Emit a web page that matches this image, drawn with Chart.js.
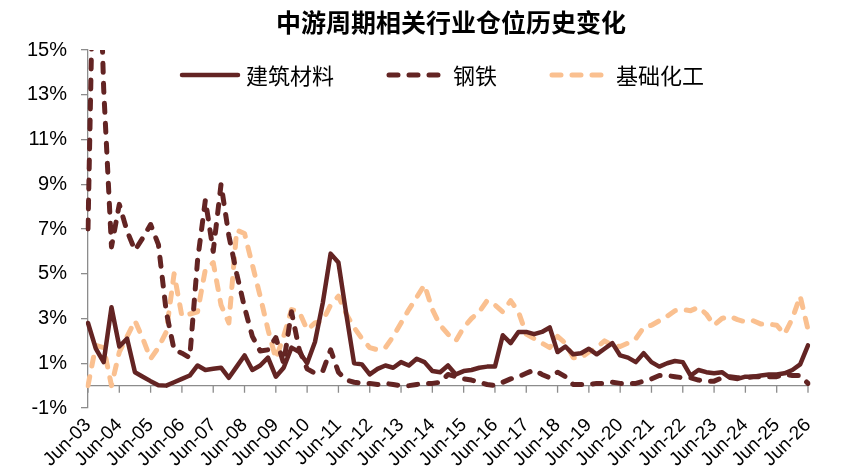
<!DOCTYPE html>
<html><head><meta charset="utf-8">
<script src="https://cdn.jsdelivr.net/npm/chart.js@4/dist/chart.umd.min.js"></script>
<style>html,body{margin:0;padding:0;background:#fff}#wrap{width:847px;height:474px}</style>
</head><body><div id="wrap"><canvas id="c" width="847" height="474"></canvas></div>
<script>
const chartTitle = '中游周期相关行业仓位历史变化';
const seriesNames = ['建筑材料', '钢铁', '基础化工'];
const yearTicks = ['Jun-03','Jun-04','Jun-05','Jun-06','Jun-07','Jun-08','Jun-09','Jun-10','Jun-11','Jun-12','Jun-13','Jun-14','Jun-15','Jun-16','Jun-17','Jun-18','Jun-19','Jun-20','Jun-21','Jun-22','Jun-23','Jun-24','Jun-25','Jun-26'];
const quarterMonths = ['Jun', 'Sep', 'Dec', 'Mar'];
const yTickValues = [-1, 1, 3, 5, 7, 9, 11, 13, 15];

// 建筑材料 (%), quarterly from Jun-03 to Jun-26
const jianzhuCailiao = [
  2.8, 1.65, 1.05, 3.5, 1.75, 2.1, 0.6, 0.4, 0.2, 0.02,
  0.0, 0.15, 0.3, 0.45, 0.9, 0.7, 0.75, 0.8, 0.35, 0.85,
  1.35, 0.7, 0.9, 1.25, 0.4, 0.8, 1.7, 1.5, 1.0, 1.95,
  3.7, 5.9, 5.5, 3.2, 1.0, 0.95, 0.5, 0.75, 0.9, 0.8,
  1.05, 0.9, 1.2, 1.05, 0.65, 0.6, 0.9, 0.5, 0.65, 0.7,
  0.8, 0.85, 0.85, 2.25, 1.9, 2.4, 2.4, 2.3, 2.4, 2.6,
  1.5, 1.75, 1.4, 1.45, 1.65, 1.4, 1.65, 1.9, 1.35, 1.25,
  1.05, 1.45, 1.05, 0.85, 1.0, 1.1, 1.05, 0.45, 0.7, 0.6,
  0.55, 0.6, 0.35, 0.3, 0.4, 0.4, 0.45, 0.5, 0.5, 0.55,
  0.7, 0.95, 1.8
];
// 钢铁 (%)
const gangtie = [
  7.0, 25, 13.3, 6.2, 8.1, 6.9, 6.05, 6.6, 7.2, 6.3,
  3.3, 1.6, 1.45, 1.25, 5.6, 8.3, 6.0, 9.0, 6.7, 5.0,
  3.5, 2.2, 1.55, 1.6, 2.15, 1.0, 3.3, 1.6, 0.75, 0.55,
  0.65, 1.6, 0.6, 0.25, 0.15, 0.1, 0.1, 0.05, 0.1, 0.05,
  0.0, 0.0, 0.05, 0.1, 0.1, 0.15, 0.5, 0.4, 0.3, 0.25,
  0.15, 0.05, 0.0, 0.15, 0.3, 0.4, 0.55, 0.7, 0.5, 0.35,
  0.6, 0.4, 0.05, 0.05, 0.05, 0.1, 0.1, 0.15, 0.1, 0.1,
  0.1, 0.2, 0.3, 0.45, 0.45, 0.4, 0.35, 0.35, 0.25, 0.2,
  0.2, 0.35, 0.4, 0.35, 0.35, 0.4, 0.4, 0.4, 0.4, 0.5,
  0.45, 0.45, 0.1
];
// 基础化工 (%)
const jichuHuagong = [
  0.0, 1.8, 1.7, 0.0, 1.5, 2.2, 2.9, 2.1, 1.2, 1.7,
  2.4, 5.0, 3.1, 3.2, 3.3, 5.2, 5.5, 3.6, 2.8, 6.95,
  6.8, 5.4, 4.0, 2.5, 1.2, 2.2, 3.4, 3.3, 2.5, 2.8,
  2.9, 3.6, 4.0, 3.2, 2.6, 2.1, 1.7, 1.6, 1.7, 2.2,
  2.8, 3.4, 3.95, 4.5, 3.4, 2.7, 2.3, 2.0, 2.6, 3.0,
  3.3, 3.8, 3.6, 3.3, 3.8, 3.3, 2.3, 2.1, 1.9, 1.7,
  2.2, 1.9, 1.25, 1.25, 1.5, 1.7, 2.0, 1.8, 1.75, 1.9,
  2.1, 2.6, 2.7, 2.9, 3.1, 3.35, 3.4, 3.35, 3.5, 3.2,
  2.7, 3.0, 3.1, 2.95, 2.85, 2.9, 2.75, 2.75, 2.7, 2.3,
  3.0, 4.0, 2.5
];

// quarter labels derived from the yearly tick labels
const quarterLabels = [];
yearTicks.forEach((t, i) => {
  const yy = parseInt(t.slice(4), 10);
  if (i === yearTicks.length - 1) { quarterLabels.push(t); return; }
  quarterMonths.forEach((m, k) => {
    const y = k === 3 ? yy + 1 : yy;
    quarterLabels.push(m + '-' + String(y).padStart(2, '0'));
  });
});

const DARK = '#632423';
const LIGHT = '#FAC090';
const LATIN = '"Liberation Sans", Arial, "Noto Sans CJK SC", sans-serif';
const CJK = '"Noto Sans CJK SC", "Liberation Sans", sans-serif';

const zeroAxisPlugin = {
  id: 'zeroAxis',
  beforeDatasetsDraw(chart) {
    const {ctx, chartArea, scales} = chart;
    const y0 = scales.y.getPixelForValue(0);
    ctx.save();
    ctx.strokeStyle = '#8c8c8c';
    ctx.lineWidth = 1.3;
    ctx.beginPath();
    ctx.moveTo(chartArea.left, y0);
    ctx.lineTo(chartArea.right, y0);
    quarterLabels.forEach((l, i) => {
      if (yearTicks.includes(l)) {
        const x = scales.x.getPixelForValue(i);
        ctx.moveTo(x, y0);
        ctx.lineTo(x, y0 + 7);
      }
    });
    ctx.stroke();
    ctx.restore();
  }
};

const titleLegendPlugin = {
  id: 'titleLegend',
  afterDraw(chart) {
    const {ctx, chartArea} = chart;
    ctx.save();
    ctx.fillStyle = '#000';
    ctx.font = 'bold 25px ' + CJK;
    ctx.textAlign = 'center';
    ctx.textBaseline = 'middle';
    ctx.fillText(chartTitle, (chartArea.left + chartArea.right) / 2 + 3, 22);

    ctx.font = '22px ' + CJK;
    ctx.textAlign = 'left';
    const lineLen = 56, textGap = 8, itemGap = 55, ly = 75;
    let x = 182;
    chart.data.datasets.forEach(ds => {
      ctx.save();
      ctx.strokeStyle = ds.borderColor;
      ctx.lineWidth = ds.borderWidth;
      ctx.lineCap = ds.borderCapStyle || 'butt';
      ctx.setLineDash(ds.borderDash || []);
      ctx.beginPath();
      ctx.moveTo(x, ly);
      ctx.lineTo(x + lineLen, ly);
      ctx.stroke();
      ctx.restore();
      ctx.fillStyle = '#000';
      ctx.fillText(ds.label, x + lineLen + textGap, ly + 1);
      const w = ctx.measureText(ds.label).width;
      x += lineLen + textGap + w + itemGap;
    });
    ctx.restore();
  }
};

new Chart(document.getElementById('c'), {
  type: 'line',
  data: {
    labels: quarterLabels,
    datasets: [
      { label: seriesNames[0], data: jianzhuCailiao, borderColor: DARK, borderWidth: 4.5,
        borderCapStyle: 'round', borderJoinStyle: 'round', pointRadius: 0, tension: 0, fill: false },
      { label: seriesNames[1], data: gangtie, borderColor: DARK, borderWidth: 5, borderDash: [9, 11],
        borderCapStyle: 'round', borderJoinStyle: 'round', pointRadius: 0, tension: 0, fill: false },
      { label: seriesNames[2], data: jichuHuagong, borderColor: LIGHT, borderWidth: 5, borderDash: [9, 11],
        borderCapStyle: 'round', borderJoinStyle: 'round', pointRadius: 0, tension: 0, fill: false }
    ]
  },
  options: {
    responsive: false,
    animation: false,
    devicePixelRatio: 1,
    layout: { padding: { top: 50, right: 39, left: 0, bottom: 0 } },
    plugins: { legend: { display: false }, title: { display: false }, tooltip: { enabled: false } },
    scales: {
      x: {
        type: 'category',
        offset: false,
        grid: { display: false, drawTicks: false },
        border: { display: false },
        ticks: {
          autoSkip: false, minRotation: 45, maxRotation: 45, padding: 6,
          color: '#000', font: { family: LATIN, size: 19 },
          callback: function(v, i) { const l = quarterLabels[i]; return yearTicks.includes(l) ? l : ''; }
        },
        afterFit(scale) { scale.height = 66; }
      },
      y: {
        min: -1, max: 15,
        afterBuildTicks(scale) { scale.ticks = yTickValues.map(v => ({ value: v })); },
        grid: { drawOnChartArea: false, drawTicks: true, tickLength: 7, color: '#8c8c8c', lineWidth: 1.3 },
        border: { display: true, color: '#8c8c8c', width: 1.3 },
        ticks: { padding: 14, color: '#000', font: { family: LATIN, size: 20 },
          callback: v => v + '%' },
        afterFit(scale) { scale.width = 88; }
      }
    }
  },
  plugins: [zeroAxisPlugin, titleLegendPlugin]
});
</script>
</body></html>
